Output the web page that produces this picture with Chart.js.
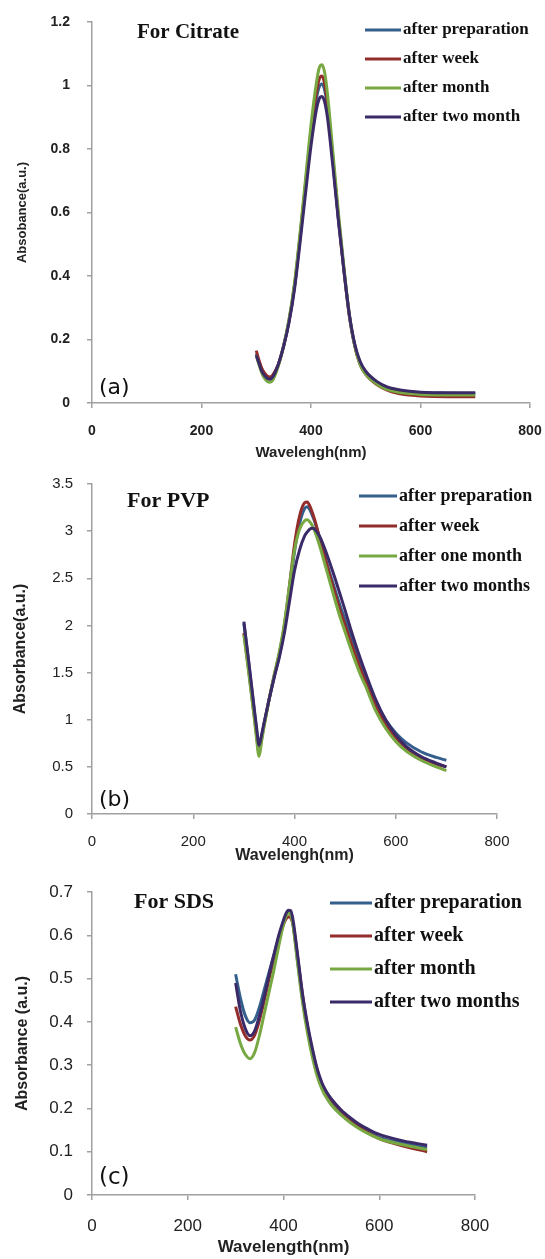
<!DOCTYPE html>
<html>
<head>
<meta charset="utf-8">
<script src="https://cdn.jsdelivr.net/npm/chart.js@4.4.0/dist/chart.umd.min.js"></script>
<style>
  html, body { margin: 0; padding: 0; background: #fff; }
  canvas { position: absolute; left: 0; }
  #chartA { top: 0; }
  #chartB { top: 470px; }
  #chartC { top: 865px; }
</style>
</head>
<body>
<canvas id="chartA" width="545" height="470"></canvas>
<canvas id="chartB" width="545" height="395"></canvas>
<canvas id="chartC" width="545" height="394"></canvas>
<script>
// 波長(nm)
const waveA = [300, 305, 310, 315, 320, 325, 330, 340, 350, 360, 370, 380, 390, 400, 410, 415, 420, 425, 430, 440, 450, 460, 470, 480, 490, 500, 520, 540, 560, 580, 600, 650, 700];
const waveB = [300, 310, 320, 325, 330, 335, 340, 350, 360, 370, 380, 390, 400, 410, 420, 425, 430, 435, 440, 450, 460, 470, 480, 490, 500, 510, 520, 530, 540, 560, 580, 600, 620, 650, 680, 700];
const waveC = [300, 310, 320, 330, 340, 350, 360, 370, 380, 390, 400, 405, 410, 415, 420, 430, 440, 450, 460, 470, 480, 490, 500, 520, 540, 560, 580, 600, 650, 700];

// (a) Citrate
const citratePrep  = [0.155, 0.13, 0.105, 0.09, 0.08, 0.078, 0.085, 0.12, 0.18, 0.26, 0.37, 0.52, 0.68, 0.84, 0.96, 0.995, 1.005, 0.985, 0.93, 0.76, 0.58, 0.42, 0.275, 0.18, 0.125, 0.095, 0.065, 0.048, 0.04, 0.035, 0.033, 0.031, 0.03];
const citrateWeek  = [0.165, 0.135, 0.11, 0.095, 0.085, 0.082, 0.088, 0.12, 0.18, 0.26, 0.37, 0.525, 0.69, 0.855, 0.98, 1.02, 1.03, 1.005, 0.945, 0.77, 0.585, 0.42, 0.275, 0.18, 0.12, 0.09, 0.058, 0.04, 0.03, 0.025, 0.022, 0.02, 0.02];
const citrateMonth = [0.15, 0.12, 0.095, 0.078, 0.068, 0.065, 0.072, 0.115, 0.18, 0.265, 0.38, 0.535, 0.705, 0.875, 1.01, 1.055, 1.065, 1.04, 0.975, 0.79, 0.6, 0.43, 0.28, 0.18, 0.12, 0.09, 0.06, 0.042, 0.034, 0.03, 0.027, 0.025, 0.025];
const citrateTwo   = [0.15, 0.125, 0.1, 0.087, 0.078, 0.075, 0.082, 0.12, 0.178, 0.255, 0.36, 0.505, 0.66, 0.81, 0.925, 0.958, 0.965, 0.948, 0.9, 0.745, 0.575, 0.42, 0.28, 0.185, 0.13, 0.1, 0.068, 0.05, 0.042, 0.037, 0.034, 0.032, 0.032];
const labelsA = ['after preparation', 'after week', 'after month', 'after two month'];

// (b) PVP
const pvpPrep  = [2.02, 1.58, 1.12, 0.88, 0.68, 0.82, 0.96, 1.22, 1.46, 1.68, 1.97, 2.36, 2.78, 3.08, 3.24, 3.26, 3.23, 3.17, 3.1, 2.92, 2.73, 2.55, 2.38, 2.21, 2.06, 1.9, 1.75, 1.6, 1.47, 1.2, 1.0, 0.86, 0.76, 0.66, 0.6, 0.57];
const pvpWeek  = [1.92, 1.5, 1.06, 0.84, 0.65, 0.8, 0.95, 1.22, 1.47, 1.7, 2.0, 2.42, 2.86, 3.16, 3.3, 3.31, 3.27, 3.2, 3.12, 2.92, 2.72, 2.52, 2.34, 2.16, 2.0, 1.84, 1.69, 1.54, 1.41, 1.15, 0.95, 0.81, 0.7, 0.6, 0.53, 0.5];
const pvpMonth = [1.9, 1.48, 1.04, 0.8, 0.61, 0.77, 0.93, 1.22, 1.48, 1.72, 2.02, 2.42, 2.8, 3.02, 3.11, 3.12, 3.1, 3.06, 3.0, 2.84, 2.65, 2.46, 2.27, 2.09, 1.93, 1.77, 1.62, 1.48, 1.36, 1.1, 0.91, 0.77, 0.67, 0.57, 0.5, 0.46];
const pvpTwo   = [2.04, 1.6, 1.14, 0.92, 0.73, 0.84, 0.97, 1.22, 1.45, 1.66, 1.92, 2.25, 2.58, 2.8, 2.95, 2.99, 3.02, 3.03, 3.02, 2.94, 2.81, 2.66, 2.5, 2.33, 2.16, 1.98, 1.81, 1.65, 1.5, 1.22, 1.0, 0.84, 0.72, 0.61, 0.54, 0.5];
const labelsB = ['after preparation', 'after week', 'after one month', 'after two months'];

// (c) SDS
const sdsPrep  = [0.51, 0.455, 0.415, 0.398, 0.405, 0.435, 0.475, 0.515, 0.555, 0.595, 0.63, 0.645, 0.655, 0.652, 0.625, 0.535, 0.45, 0.385, 0.33, 0.285, 0.252, 0.23, 0.214, 0.19, 0.172, 0.155, 0.143, 0.133, 0.12, 0.11];
const sdsWeek  = [0.435, 0.395, 0.368, 0.358, 0.37, 0.405, 0.45, 0.5, 0.545, 0.59, 0.625, 0.637, 0.643, 0.64, 0.625, 0.545, 0.46, 0.39, 0.335, 0.29, 0.257, 0.235, 0.22, 0.195, 0.173, 0.156, 0.142, 0.13, 0.113, 0.1];
const sdsMonth = [0.388, 0.35, 0.325, 0.315, 0.33, 0.37, 0.42, 0.47, 0.52, 0.575, 0.625, 0.643, 0.652, 0.648, 0.622, 0.53, 0.443, 0.375, 0.32, 0.276, 0.245, 0.224, 0.208, 0.185, 0.167, 0.152, 0.14, 0.13, 0.116, 0.105];
const sdsTwo   = [0.49, 0.425, 0.385, 0.368, 0.38, 0.415, 0.46, 0.51, 0.555, 0.6, 0.635, 0.65, 0.658, 0.657, 0.635, 0.55, 0.462, 0.395, 0.34, 0.293, 0.26, 0.238, 0.222, 0.197, 0.178, 0.162, 0.15, 0.14, 0.125, 0.115];
const labelsC = ['after preparation', 'after week', 'after month', 'after two months'];

const xTicks = [0, 200, 400, 600, 800];

const colors = ['#355f8c', '#922d2b', '#78a842', '#3b2a68'];
const axisColor = '#a0a0a0';

// グラフ内の文字(タイトル・(a)・凡例)を描く
const notes = {
  id: 'notes',
  afterDraw(chart, args, o) {
    const ctx = chart.ctx;
    ctx.save();
    ctx.textBaseline = 'middle';
    ctx.fillStyle = '#111';
    ctx.font = `bold ${o.titleSize}px "Liberation Serif"`;
    ctx.fillText(o.title, o.titleX, o.titleY);
    ctx.font = `${o.tagSize}px "DejaVu Sans"`;
    ctx.fillText(o.tag, o.tagX, o.tagY);
    ctx.font = `bold ${o.legendSize}px "Liberation Serif"`;
    chart.data.datasets.forEach((ds, i) => {
      const y = o.legendY + i * o.legendGap;
      ctx.strokeStyle = ds.borderColor;
      ctx.lineWidth = 3;
      ctx.beginPath();
      ctx.moveTo(o.lineX0, y);
      ctx.lineTo(o.lineX1, y);
      ctx.stroke();
      ctx.fillText(ds.label, o.lineX1 + 2, y);
    });
    ctx.restore();
  }
};

// 1.0 -> "1" のように末尾の0を落とす
const plainNumber = v => String(Math.round(v * 100) / 100);

function makeChart(id, p) {
  const datasets = p.series.map((ys, i) => ({
    label: p.labels[i],
    data: p.wave.map((x, j) => ({ x, y: ys[j] })),
    borderColor: colors[i],
    backgroundColor: colors[i],
    borderWidth: 3,
    pointRadius: 0,
    cubicInterpolationMode: 'monotone',
    order: 3 - i
  }));

  return new Chart(document.getElementById(id), {
    type: 'line',
    data: { datasets },
    plugins: [notes],
    options: {
      responsive: false,
      animation: false,
      layout: { autoPadding: false, padding: { left: 0, right: p.padRight, top: p.padTop, bottom: 0 } },
      scales: {
        x: {
          type: 'linear', min: 0, max: 800,
          afterBuildTicks: s => { s.ticks = xTicks.map(v => ({ value: v })); },
          ticks: { padding: p.xTickPad, color: '#222', font: p.tickFont, maxRotation: 0, callback: plainNumber },
          grid: { drawOnChartArea: false, tickLength: 5, color: axisColor, lineWidth: 1.5 },
          border: { color: axisColor, width: 1.5 },
          title: { display: true, text: p.xTitle, color: '#222', font: p.xTitleFont, padding: { top: 0, bottom: p.xTitlePad } },
          afterFit: s => { s.height = p.xHeight; s.paddingLeft = 0; s.paddingRight = 0; }
        },
        y: {
          min: 0, max: p.yMax,
          ticks: { stepSize: p.yStep, padding: p.yTickPad, color: '#222', font: p.tickFont, callback: plainNumber },
          grid: { drawOnChartArea: false, tickLength: 5, color: axisColor, lineWidth: 1.5 },
          border: { color: axisColor, width: 1.5 },
          title: { display: true, text: p.yTitle, color: '#222', font: p.yTitleFont, padding: { top: p.yTitlePad, bottom: 0 } },
          afterFit: s => { s.width = 92; s.paddingTop = 0; s.paddingBottom = 0; }
        }
      },
      plugins: {
        legend: { display: false },
        tooltip: { enabled: false },
        notes: p.notes
      }
    }
  });
}

makeChart('chartA', {
  wave: waveA,
  series: [citratePrep, citrateWeek, citrateMonth, citrateTwo],
  labels: labelsA,
  yMax: 1.2, yStep: 0.2,
  padTop: 22, padRight: 15, xHeight: 67,
  xTickPad: 15, yTickPad: 17,
  tickFont: { family: 'Liberation Sans', size: 14, weight: 'bold' },
  xTitle: 'Wavelengh(nm)', xTitleFont: { family: 'Liberation Sans', size: 15, weight: 'bold' }, xTitlePad: 8,
  yTitle: 'Absobance(a.u.)', yTitleFont: { family: 'Liberation Sans', size: 13, weight: 'bold' }, yTitlePad: 15,
  notes: {
    title: 'For Citrate', titleSize: 21, titleX: 137, titleY: 33,
    tag: '(a)', tagSize: 22, tagX: 99, tagY: 388,
    legendSize: 17, legendY: 30, legendGap: 29, lineX0: 365, lineX1: 401
  }
});

makeChart('chartB', {
  wave: waveB,
  series: [pvpPrep, pvpWeek, pvpMonth, pvpTwo],
  labels: labelsB,
  yMax: 3.5, yStep: 0.5,
  padTop: 14, padRight: 48, xHeight: 51,
  xTickPad: 14, yTickPad: 14,
  tickFont: { family: 'Liberation Sans', size: 15 },
  xTitle: 'Wavelengh(nm)', xTitleFont: { family: 'Liberation Sans', size: 16, weight: 'bold' }, xTitlePad: 0,
  yTitle: 'Absorbance(a.u.)', yTitleFont: { family: 'Liberation Sans', size: 16, weight: 'bold' }, yTitlePad: 11,
  notes: {
    title: 'For PVP', titleSize: 22, titleX: 127, titleY: 31,
    tag: '(b)', tagSize: 22, tagX: 99, tagY: 330,
    legendSize: 18, legendY: 26, legendGap: 30, lineX0: 359, lineX1: 397
  }
});

makeChart('chartC', {
  wave: waveC,
  series: [sdsPrep, sdsWeek, sdsMonth, sdsTwo],
  labels: labelsC,
  yMax: 0.7, yStep: 0.1,
  padTop: 27, padRight: 70, xHeight: 64,
  xTickPad: 16, yTickPad: 14,
  tickFont: { family: 'Liberation Sans', size: 17 },
  xTitle: 'Wavelength(nm)', xTitleFont: { family: 'Liberation Sans', size: 17, weight: 'bold' }, xTitlePad: 1,
  yTitle: 'Absorbance (a.u.)', yTitleFont: { family: 'Liberation Sans', size: 16, weight: 'bold' }, yTitlePad: 13,
  notes: {
    title: 'For SDS', titleSize: 22, titleX: 134, titleY: 37,
    tag: '(c)', tagSize: 23, tagX: 99, tagY: 313,
    legendSize: 20, legendY: 38, legendGap: 33, lineX0: 330, lineX1: 372
  }
});
</script>
</body>
</html>
